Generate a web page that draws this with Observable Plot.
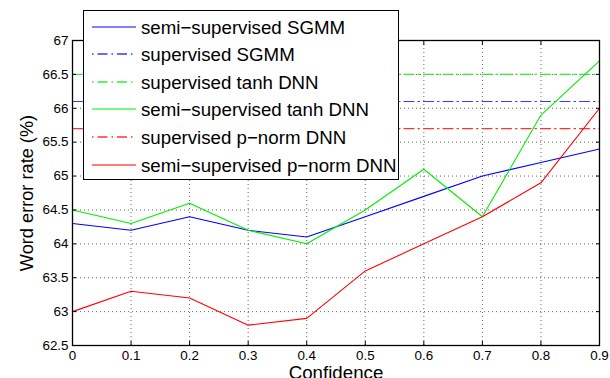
<!DOCTYPE html>
<html>
<head>
<meta charset="utf-8">
<script src="https://cdn.jsdelivr.net/npm/d3@7"></script>
<script src="https://cdn.jsdelivr.net/npm/@observablehq/plot@0.6"></script>
<style>
  html, body { margin: 0; padding: 0; background: #fff; }
  #wrap { position: relative; width: 610px; height: 378px; overflow: hidden; font-family: "Liberation Sans", Arial, sans-serif; }
  #legend { position: absolute; left: 83px; top: 10px; width: 316px; height: 170px; border: 1.3px solid #000; background: #fff; box-sizing: border-box; }
  #legend .row { position: absolute; left: 0; height: 28px; display: flex; align-items: center; }
  #legend svg { margin-left: 8px; }
  #legend span { margin-left: 5px; font-size: 18.7px; color: #000; white-space: nowrap; position: relative; top: 1px; }
</style>
</head>
<body>
<div id="wrap"></div>
<script>
const confidence = [0, 0.1, 0.2, 0.3, 0.4, 0.5, 0.6, 0.7, 0.8, 0.9];
const semiSGMM  = [64.3, 64.2, 64.4, 64.2, 64.1, 64.4, 64.7, 65.0, 65.2, 65.4];
const semiTanh  = [64.5, 64.3, 64.6, 64.2, 64.0, 64.5, 65.1, 64.4, 65.9, 66.7];
const semiPnorm = [63.0, 63.3, 63.2, 62.8, 62.9, 63.6, 64.0, 64.4, 64.9, 66.0];
const supSGMM = 66.1;
const supTanh = 66.5;
const supPnorm = 65.7;
const yTicks = [62.5, 63, 63.5, 64, 64.5, 65, 65.5, 66, 66.5, 67];
const xTicks = [0, 0.1, 0.2, 0.3, 0.4, 0.5, 0.6, 0.7, 0.8, 0.9];
const xTickLabels = ["0", "0.1", "0.2", "0.3", "0.4", "0.5", "0.6", "0.7", "0.8", "0.9"];
const yTickLabels = ["62.5", "63", "63.5", "64", "64.5", "65", "65.5", "66", "66.5", "67"];

const seriesNames = [
  "semi\u2212supervised SGMM",
  "supervised SGMM",
  "supervised tanh DNN",
  "semi\u2212supervised tanh DNN",
  "supervised p\u2212norm DNN",
  "semi\u2212supervised p\u2212norm DNN"
];
const seriesColors = ["#0000ff", "#3a3aff", "#33ee33", "#00ee00", "#ff3333", "#ff0000"];
const seriesDashed = [false, true, true, false, true, false];

const dashArr = "10,4,1.5,4";
const lineData = (vals) => confidence.map((c, i) => ({x: c, y: vals[i]}));
const flatData = (v) => confidence.map(c => ({x: c, y: v}));

const chart = Plot.plot({
  width: 610,
  height: 378,
  marginLeft: 72,
  marginRight: 11,
  marginTop: 40,
  marginBottom: 33,
  style: {fontFamily: "Liberation Sans, Arial, sans-serif", fontSize: "13.4px", color: "#000", background: "#fff"},
  x: {domain: [0, 0.9]},
  y: {domain: [62.5, 67]},
  marks: [
    Plot.gridX(xTicks, {stroke: "#555", strokeOpacity: 0.9, strokeDasharray: "1,3"}),
    Plot.gridY(yTicks, {stroke: "#555", strokeOpacity: 0.9, strokeDasharray: "1,3"}),
    Plot.line(flatData(supTanh), {x: "x", y: "y", stroke: seriesColors[2], strokeWidth: 1.2, strokeDasharray: dashArr}),
    Plot.line(flatData(supSGMM), {x: "x", y: "y", stroke: seriesColors[1], strokeWidth: 1.2, strokeDasharray: dashArr}),
    Plot.line(flatData(supPnorm), {x: "x", y: "y", stroke: seriesColors[4], strokeWidth: 1.2, strokeDasharray: dashArr}),
    Plot.line(lineData(semiSGMM), {x: "x", y: "y", stroke: seriesColors[0], strokeWidth: 1.1}),
    Plot.line(lineData(semiTanh), {x: "x", y: "y", stroke: seriesColors[3], strokeWidth: 1.1}),
    Plot.line(lineData(semiPnorm), {x: "x", y: "y", stroke: seriesColors[5], strokeWidth: 1.1}),
    Plot.frame({stroke: "#000", strokeWidth: 1.3}),
    Plot.axisX(xTicks, {anchor: "bottom", tickSize: -4, tickPadding: 9, tickFormat: (d, i) => xTickLabels[i], label: null}),
    Plot.axisX(xTicks, {anchor: "top", tickSize: -4, tickFormat: () => "", label: null}),
    Plot.axisY(yTicks, {anchor: "left", tickSize: -4, tickPadding: 8, tickFormat: (d, i) => yTickLabels[i], label: null}),
    Plot.axisY(yTicks, {anchor: "right", tickSize: -4, tickFormat: () => "", label: null}),
    Plot.text(["Confidence"], {frameAnchor: "bottom", lineAnchor: "top", dy: 20, fontSize: 18.7, textAnchor: "middle"}),
    Plot.text(["Word error rate (%)"], {frameAnchor: "left", dx: -45, rotate: -90, fontSize: 18.2, textAnchor: "middle"})
  ]
});

const wrap = document.getElementById("wrap");
wrap.appendChild(chart);

const legend = document.createElement("div");
legend.id = "legend";
seriesNames.forEach((name, i) => {
  const row = document.createElement("div");
  row.className = "row";
  row.style.top = (1.5 + i * 27.6) + "px";
  const s = d3.create("svg").attr("width", 44).attr("height", 4);
  s.append("line").attr("x1", 0).attr("x2", 44).attr("y1", 2).attr("y2", 2)
    .attr("stroke", seriesColors[i]).attr("stroke-width", seriesDashed[i] ? 1.4 : 1.1)
    .attr("stroke-dasharray", seriesDashed[i] ? "1.5,4,10,4" : null);
  row.appendChild(s.node());
  const t = document.createElement("span");
  t.textContent = name;
  row.appendChild(t);
  legend.appendChild(row);
});
wrap.appendChild(legend);
</script>
</body>
</html>
